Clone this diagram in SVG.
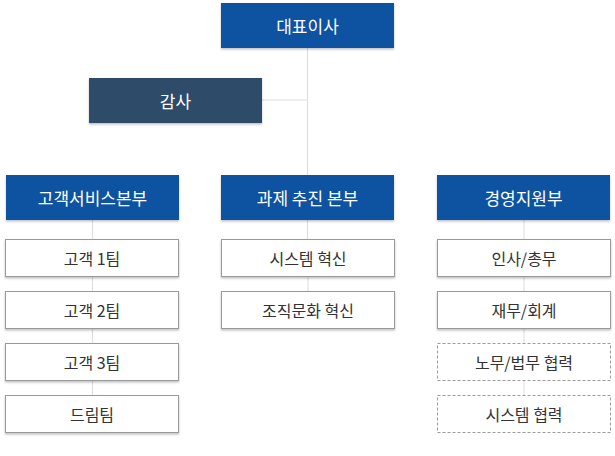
<svg xmlns="http://www.w3.org/2000/svg" width="615" height="456" viewBox="0 0 615 456">
<defs>
<filter id="sh" x="-5%" y="-10%" width="110%" height="130%">
<feDropShadow dx="0" dy="1.5" stdDeviation="1" flood-color="#000" flood-opacity="0.25"/>
</filter>
<style>
.head{fill:#0b53a1;filter:url(#sh)}
.audit{fill:#2f4b6a;filter:url(#sh)}
.sub{fill:#fff;stroke:#9a9a9a;stroke-width:1;filter:url(#sh)}
.dash{fill:#fff;stroke:#9a9a9a;stroke-width:1;stroke-dasharray:3 2}
.wt{fill:#fff;font-family:"Noto Sans CJK KR","Noto Sans",sans-serif;font-size:17px;text-anchor:middle;dominant-baseline:central}
.bt{fill:#333;font-family:"Noto Sans CJK KR","Noto Sans",sans-serif;font-size:16px;text-anchor:middle;dominant-baseline:central}
.ln{stroke:#dcdcdc;stroke-width:1;fill:none}
</style>
</defs>
<g id="connectors">
<path class="ln" d="M307.5 48V239 M262 100H307.5 M92.5 220V395 M524 220V395"/>
<path class="ln" d="M308 276V291"/>
</g>
<g id="ceo"><rect class="head" x="221" y="3" width="173" height="45"/><text class="wt" x="307.5" y="25">대표이사</text></g>
<g id="audit"><rect class="audit" x="89" y="78" width="173" height="45"/><text class="wt" x="175.5" y="100">감사</text></g>
<g id="div1"><rect class="head" x="6" y="175" width="173" height="45"/><text class="wt" x="92.5" y="197">고객서비스본부</text></g>
<g id="div2"><rect class="head" x="221" y="175" width="173" height="45"/><text class="wt" x="307.5" y="197">과제 추진 본부</text></g>
<g id="div3"><rect class="head" x="437" y="175" width="173" height="45"/><text class="wt" x="523.5" y="197">경영지원부</text></g>
<g id="t1"><rect class="sub" x="5.5" y="239.5" width="173" height="37"/><text class="bt" x="92" y="257.5">고객 1팀</text></g>
<g id="t2"><rect class="sub" x="5.5" y="291.5" width="173" height="37"/><text class="bt" x="92" y="309.5">고객 2팀</text></g>
<g id="t3"><rect class="sub" x="5.5" y="343.5" width="173" height="37"/><text class="bt" x="92" y="361.5">고객 3팀</text></g>
<g id="t4"><rect class="sub" x="5.5" y="395.5" width="173" height="37"/><text class="bt" x="92" y="413.5">드림팀</text></g>
<g id="m1"><rect class="sub" x="221.5" y="239.5" width="173" height="37"/><text class="bt" x="308" y="257.5">시스템 혁신</text></g>
<g id="m2"><rect class="sub" x="221.5" y="291.5" width="173" height="37"/><text class="bt" x="308" y="309.5">조직문화 혁신</text></g>
<g id="r1"><rect class="sub" x="437.5" y="239.5" width="173" height="37"/><text class="bt" x="524" y="257.5">인사/총무</text></g>
<g id="r2"><rect class="sub" x="437.5" y="291.5" width="173" height="37"/><text class="bt" x="524" y="309.5">재무/회계</text></g>
<g id="r3"><rect class="dash" x="437.5" y="343.5" width="173" height="37"/><text class="bt" x="524" y="361.5">노무/법무 협력</text></g>
<g id="r4"><rect class="dash" x="437.5" y="395.5" width="173" height="37"/><text class="bt" x="524" y="413.5">시스템 협력</text></g>
</svg>
